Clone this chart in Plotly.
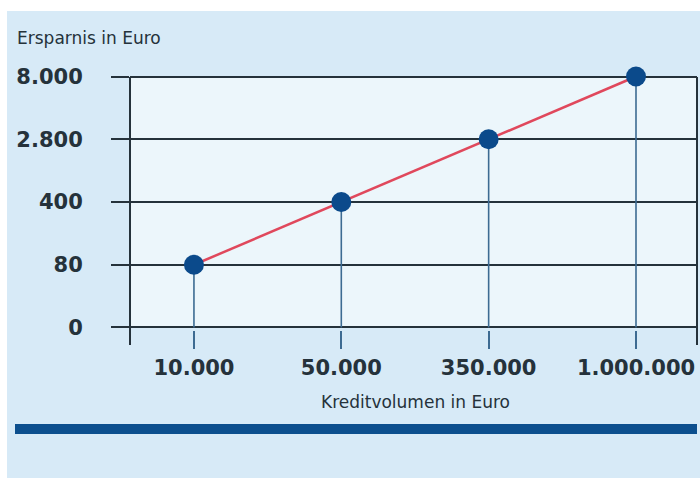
import plotly.graph_objects as go

# Data
credit_volumes = ["10.000", "50.000", "350.000", "1.000.000"]
savings = ["80", "400", "2.800", "8.000"]
y_ticks = ["0", "80", "400", "2.800", "8.000"]

y_title = "Ersparnis in Euro"
x_title = "Kreditvolumen in Euro"

DARK = "#25323b"
DROP = "#3d6b92"
RED = "#e0485c"
MARK = "#0b4a8b"
BG = "#d7eaf7"
PLOT_BG = "#ecf6fb"
BAR = "#0c4f8e"

fig = go.Figure()

# drop lines from each point to the baseline
for xv, yv in zip(credit_volumes, savings):
    fig.add_trace(go.Scatter(x=[xv, xv], y=[y_ticks[0], yv], mode="lines",
                             line=dict(color=DROP, width=1.6), cliponaxis=False,
                             hoverinfo="skip", showlegend=False))

fig.add_trace(go.Scatter(x=credit_volumes, y=savings, mode="lines+markers",
                         line=dict(color=RED, width=2.5),
                         marker=dict(size=20, color=MARK), cliponaxis=False,
                         showlegend=False))

W, H = 700, 478
L, R, T, B = 130, 3, 74, 148
pw, ph = W - L - R, H - T - B

def px(xp):
    return (xp - L) / pw

def py(yp):
    return (H - B - yp) / ph

shapes = [
    dict(type="rect", xref="paper", yref="paper", x0=px(7), x1=px(700), y0=py(478), y1=py(11),
         fillcolor=BG, line=dict(width=0), layer="below"),
    dict(type="rect", xref="paper", yref="paper", x0=0, x1=1, y0=py(327), y1=py(77),
         fillcolor=PLOT_BG, line=dict(width=0), layer="below"),
    dict(type="line", xref="paper", yref="paper", x0=0, x1=0, y0=py(345), y1=py(77),
         line=dict(color=DARK, width=2)),
    dict(type="line", xref="paper", yref="paper", x0=1, x1=1, y0=py(345), y1=py(77),
         line=dict(color=DARK, width=2)),
    dict(type="rect", xref="paper", yref="paper", x0=px(15), x1=px(697), y0=py(434), y1=py(424),
         fillcolor=BAR, line=dict(width=0)),
]

annotations = [
    dict(text=y_title, xref="paper", yref="paper", x=px(15), y=py(38), xanchor="left",
         yanchor="middle", showarrow=False, font=dict(family="DejaVu Sans", size=17, color=DARK)),
    dict(text=x_title, xref="paper", yref="paper", x=px(415), y=py(402), xanchor="center",
         yanchor="middle", showarrow=False, font=dict(family="DejaVu Sans", size=17, color=DARK)),
]

fig.update_layout(
    width=W, height=H,
    margin=dict(l=L, r=R, t=T, b=B),
    paper_bgcolor="white",
    plot_bgcolor="rgba(0,0,0,0)",
    shapes=shapes,
    annotations=annotations,
    xaxis=dict(type="category", categoryorder="array", categoryarray=credit_volumes,
               range=[-0.434, 3.414], showgrid=False, zeroline=False, showline=False,
               ticks="outside", ticklen=18, tickcolor=DROP, tickwidth=1.6,
               ticklabelstandoff=1,
               tickfont=dict(family="DejaVu Sans", size=21, color=DARK, weight="bold")),
    yaxis=dict(type="category", categoryorder="array", categoryarray=y_ticks,
               range=[-0.04, 4.04], showgrid=True, gridcolor=DARK, gridwidth=1.6,
               zeroline=False, showline=False,
               ticks="outside", ticklen=18, tickcolor=DARK, tickwidth=1.6,
               ticklabelstandoff=24,
               tickfont=dict(family="DejaVu Sans", size=21, color=DARK, weight="bold")),
)

fig.write_html("out.html")
